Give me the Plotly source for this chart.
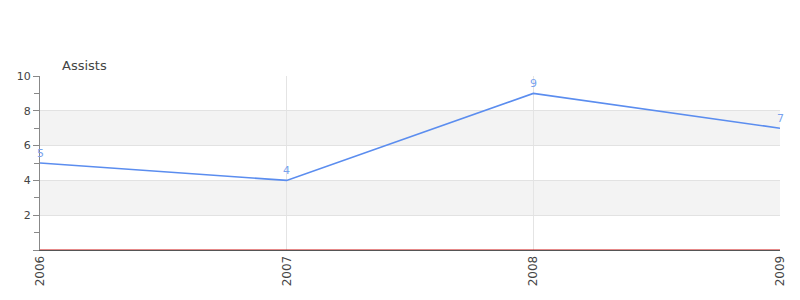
import plotly.graph_objects as go

years = [2006, 2007, 2008, 2009]
assists = [5, 4, 9, 7]
y_ticks = [0, 2, 4, 6, 8, 10]
y_labels = ["", "2", "4", "6", "8", "10"]
bands = [(2, 4), (6, 8)]

fig = go.Figure()
fig.add_trace(go.Scatter(
    x=years, y=assists, mode="lines",
    line=dict(color="#5b8def", width=1.6),
    cliponaxis=False, showlegend=False, hoverinfo="skip"))

for xv, yv in zip(years, assists):
    fig.add_annotation(x=xv, y=yv, text=str(yv), showarrow=False,
                       yanchor="bottom", yshift=1,
                       font=dict(color="#7aa3ee", size=11, family="DejaVu Sans"))

for lo, hi in bands:
    fig.add_shape(type="rect", xref="paper", yref="y", x0=0, x1=1, y0=lo, y1=hi,
                  fillcolor="#f3f3f3", line=dict(width=0), layer="below")
fig.add_shape(type="line", xref="paper", yref="y", x0=0, x1=1, y0=0, y1=0,
              line=dict(color="#cc1111", width=1), layer="above")

fig.add_annotation(text="Assists", xref="paper", yref="paper", x=0.0297, y=1,
                   xanchor="left", yanchor="bottom", yshift=1, xshift=-2, showarrow=False,
                   font=dict(size=13, color="#444", family="DejaVu Sans"))

fig.update_layout(
    width=800, height=300, margin=dict(l=40, r=20, t=76, b=50),
    paper_bgcolor="white", plot_bgcolor="white",
    font=dict(family="DejaVu Sans", size=11, color="#444"),
    xaxis=dict(range=[2006, 2009], tickvals=years, ticktext=[str(y) for y in years],
               tickangle=-90, tickfont=dict(size=12), showgrid=True, gridcolor="#e4e4e4",
               zeroline=False, showline=True, linecolor="#555", linewidth=1, ticks="",
               fixedrange=True),
    yaxis=dict(range=[0, 10], tickvals=y_ticks, ticktext=y_labels, showgrid=True,
               gridcolor="#e2e2e2", zeroline=False, showline=True, linecolor="#888",
               linewidth=1, ticks="outside", ticklen=6, tickcolor="#888",
               minor=dict(tickvals=[1, 3, 5, 7, 9], ticks="outside", ticklen=5,
                          tickcolor="#888", showgrid=False)),
)
fig.write_html("out.html")
